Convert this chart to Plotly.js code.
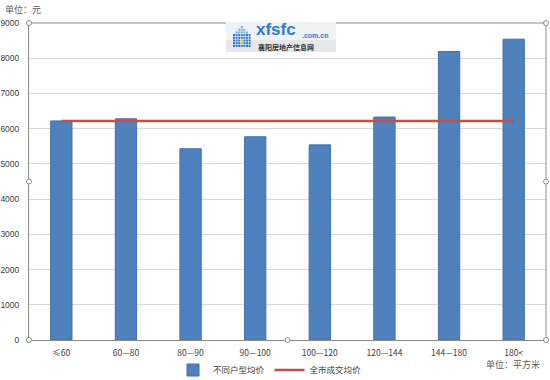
<!DOCTYPE html>
<html>
<head>
<meta charset="utf-8">
<script src="https://cdn.plot.ly/plotly-3.0.1.min.js"></script>
<style>
html,body{margin:0;padding:0;background:#fff;}
#chart{width:550px;height:380px;}
</style>
</head>
<body>
<div id="chart"></div>
<script>
// ---- data ----
const categories = ['≤60', '60—80', '80—90', '90—100', '100—120', '120—144', '144—180', '180<'];
const avgByType = [6220, 6280, 5430, 5770, 5540, 6330, 8190, 8540];
const cityAvg = [6220, 6220, 6220, 6220, 6220, 6220, 6220, 6220];
const yTicks = [0, 1000, 2000, 3000, 4000, 5000, 6000, 7000, 8000, 9000];
const seriesNames = ['不同户型均价', '全市成交均价'];
const unitY = '单位：元';
const unitX = '单位：平方米';

// ---- layout helpers (pixel -> paper) ----
const W = 550, H = 380, L = 29, R = 546, T = 23, B = 340;
const px = x => (x - L) / (R - L);
const py = y => (B - y) / (B - T);

const cjk = '"Noto Sans CJK SC", "Noto Sans", sans-serif';

const traces = [
  {
    type: 'bar', x: categories, y: avgByType, name: seriesNames[0],
    width: 0.33,
    marker: {color: '#4F81BD', line: {color: '#3F72B0', width: 1}},
    hoverinfo: 'x+y'
  },
  {
    type: 'scatter', mode: 'lines', x: categories, y: cityAvg, name: seriesNames[1],
    line: {color: '#C0504D', width: 2.5}
  }
];

const shapes = [];
// frame (selection box) top & right
shapes.push({type: 'line', xref: 'paper', yref: 'paper', x0: 0, x1: 1, y0: 1, y1: 1, line: {color: '#8c8c8c', width: 1}});
shapes.push({type: 'line', xref: 'paper', yref: 'paper', x0: 1, x1: 1, y0: 0, y1: 1, line: {color: '#8c8c8c', width: 1}});
// logo background
shapes.push({type: 'rect', xref: 'paper', yref: 'paper', x0: px(226), x1: px(336), y0: py(52), y1: py(22),
  fillcolor: '#f1f2f3', line: {width: 0}, layer: 'above'});
shapes.push({type: 'rect', xref: 'paper', yref: 'paper', x0: px(226), x1: px(336), y0: py(52), y1: py(40),
  fillcolor: '#e6e7e9', line: {width: 0}, layer: 'above'});
// logo icon: grid of small squares in a house shape
const iconRows = [
  [3, 3], [2, 4], [1, 5], [0, 6], [0, 6], [0, 6], [0, 6], [0, 6]
];
iconRows.forEach((r, i) => {
  for (let c = r[0]; c <= r[1]; c++) {
    const x0 = 233 + c * 2.6, y0 = 26 + i * 2.7;
    const yellow = (i === 5 || i === 6) && (c === 3);
    shapes.push({type: 'rect', xref: 'paper', yref: 'paper',
      x0: px(x0), x1: px(x0 + 2), y0: py(y0 + 2), y1: py(y0),
      fillcolor: yellow ? '#f2c21b' : (i < 3 ? '#6fb3ee' : '#2a78d0'), line: {width: 0}, layer: 'above'});
  }
});
// selection handles
[[L, T], [R, T], [L, (T + B) / 2], [R, (T + B) / 2], [L, B], [(L + R) / 2, B], [R, B]].forEach(p => {
  shapes.push({type: 'circle', xref: 'paper', yref: 'paper',
    x0: px(p[0] - 2.5), x1: px(p[0] + 2.5), y0: py(p[1] + 2.5), y1: py(p[1] - 2.5),
    fillcolor: '#ffffff', line: {color: '#8c8c8c', width: 1}, layer: 'above'});
});

const annotations = [
  {text: unitY, xref: 'paper', yref: 'paper', x: px(3), y: py(9), xanchor: 'left', yanchor: 'middle',
   showarrow: false, font: {family: cjk, size: 9, color: '#595959'}},
  {text: unitX, xref: 'paper', yref: 'paper', x: px(542), y: py(364), xanchor: 'right', yanchor: 'middle',
   showarrow: false, font: {family: cjk, size: 9, color: '#595959'}},
  {text: '<b>xfsfc</b>', xref: 'paper', yref: 'paper', x: px(255), y: py(30), xanchor: 'left', yanchor: 'middle',
   showarrow: false, borderpad: 0, font: {family: 'Arial, "Liberation Sans", sans-serif', size: 17, color: '#2a7bd3'}},
  {text: '<b>.com.cn</b>', xref: 'paper', yref: 'paper', x: px(301), y: py(35), xanchor: 'left', yanchor: 'middle',
   showarrow: false, borderpad: 0, font: {family: 'Arial, "Liberation Sans", sans-serif', size: 7, color: '#2a7bd3'}},
  {text: '<b>襄阳房地产信息网</b>', xref: 'paper', yref: 'paper', x: px(257), y: py(47.5), xanchor: 'left', yanchor: 'middle',
   showarrow: false, borderpad: 0, font: {family: cjk, size: 7, color: '#333333'}}
];

const layout = {
  width: W, height: H,
  margin: {l: L, r: W - R, t: T, b: H - B, pad: 0, autoexpand: false},
  paper_bgcolor: '#ffffff', plot_bgcolor: '#ffffff',
  font: {family: cjk, size: 8.5, color: '#404040'},
  showlegend: true,
  legend: {orientation: 'h', x: px(270), xanchor: 'center', y: py(370), yanchor: 'middle',
    font: {family: cjk, size: 8.5, color: '#404040'}, itemwidth: 30, tracegroupgap: 0,
    bgcolor: 'rgba(0,0,0,0)'},
  xaxis: {
    type: 'category', categoryorder: 'array', categoryarray: categories,
    range: [-0.5, categories.length - 0.5],
    showgrid: false, zeroline: false,
    showline: true, linecolor: '#8c8c8c', linewidth: 1,
    ticks: 'outside', ticklen: 5, tickcolor: 'rgba(0,0,0,0)',
    tickfont: {family: cjk, size: 8.5, color: '#404040'}
  },
  yaxis: {
    range: [0, 9000], tickvals: yTicks, ticktext: yTicks.map(String),
    showgrid: true, gridcolor: '#d9d9d9', gridwidth: 1,
    zeroline: false, showline: true, linecolor: '#8c8c8c', linewidth: 1,
    ticks: 'outside', ticklen: 7, tickcolor: 'rgba(0,0,0,0)',
    tickfont: {family: '"Liberation Sans", Arial, sans-serif', size: 8.5, color: '#404040'}
  },
  shapes: shapes,
  annotations: annotations
};

Plotly.newPlot('chart', traces, layout, {staticPlot: true, displayModeBar: false});
</script>
</body>
</html>
